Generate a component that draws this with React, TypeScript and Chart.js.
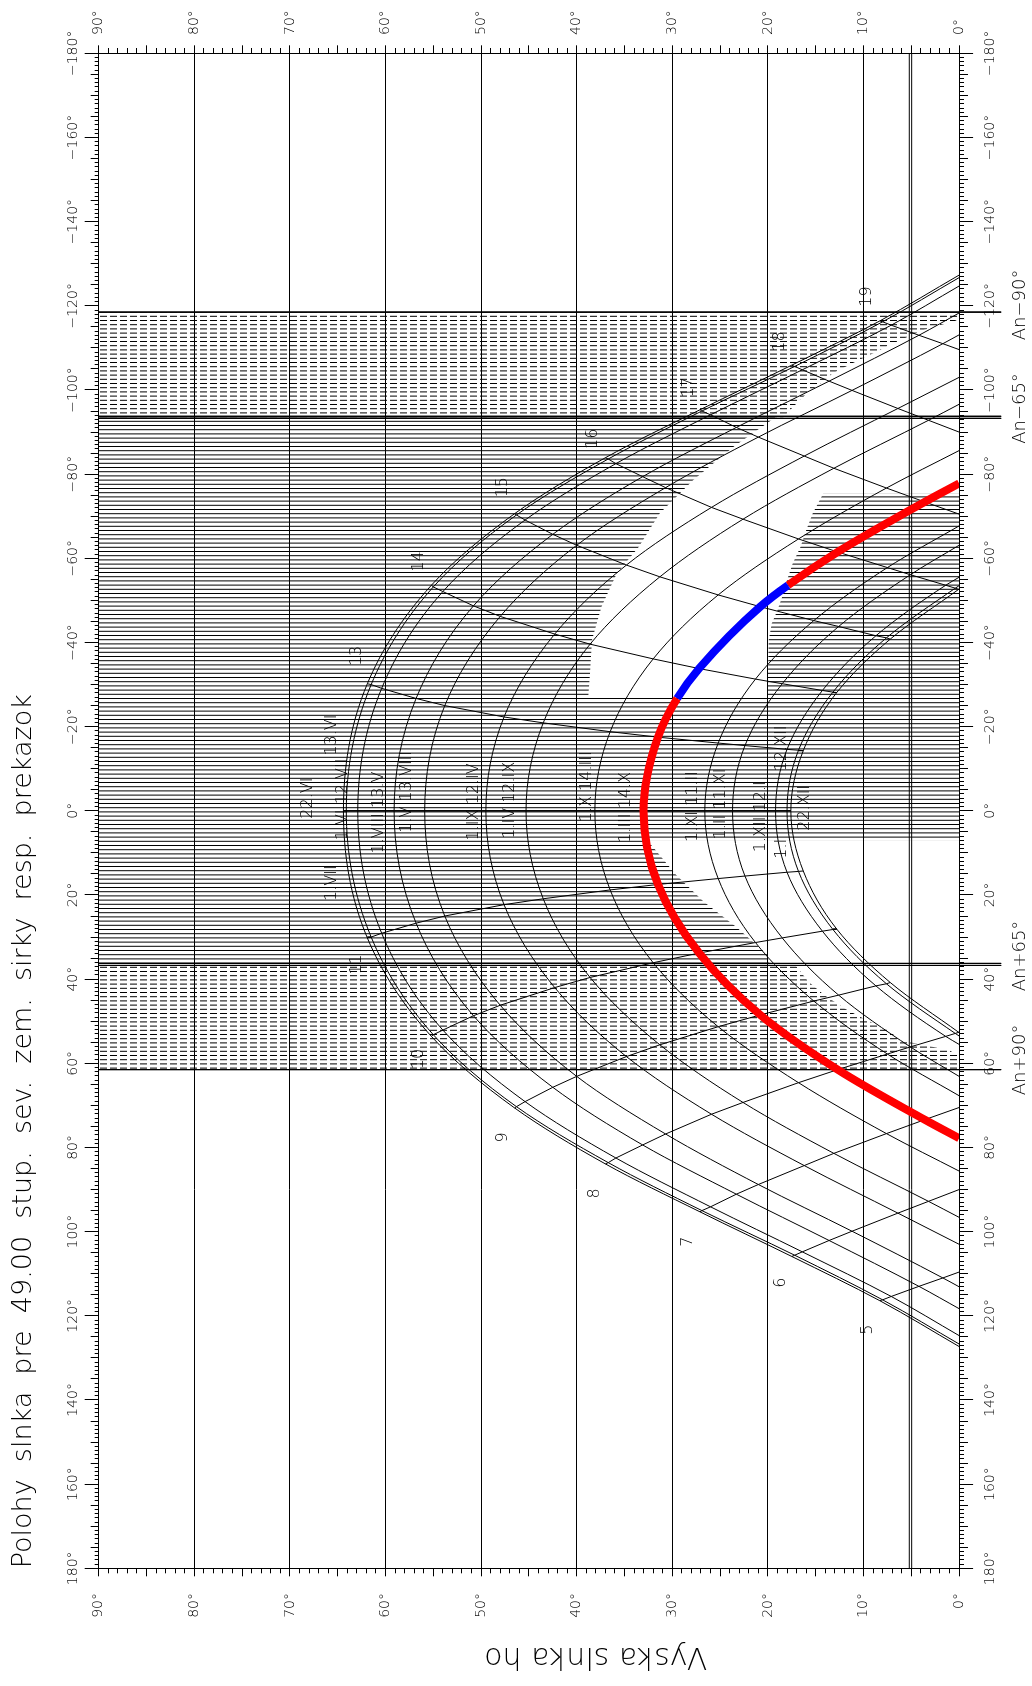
import React, { useEffect, useRef } from 'react';
import { Chart, registerables } from 'chart.js';

Chart.register(...registerables);

const FONT = '"DejaVu Sans", "Liberation Sans", sans-serif';
const WEIGHT = '200';

const chartTitle = 'Polohy  slnka  pre  49.00  stup.  sev.  zem.  sirky  resp.  prekazok';
const altitudeTitle = 'Vyska slnka ho';

// ---- sun path table: solar hours 5..19, azimuth (deg, + = east) and altitude (deg) ----
const hours = [5, 6, 7, 8, 9, 10, 11, 12, 13, 14, 15, 16, 17, 18, 19];

const az22VI = [116.4, 105.9, 95.3, 83.9, 70.6, 53.6, 30.2, 0, -30.2, -53.6, -70.6, -83.9, -95.3, -105.9, -116.4];
const alt22VI = [8.3, 17.5, 27.1, 37.0, 46.5, 55.2, 61.9, 64.4, 61.9, 55.2, 46.5, 37.0, 27.1, 17.5, 8.3];
const az1VII = [116.2, 105.6, 95.0, 83.6, 70.3, 53.2, 30.0, 0, -30.0, -53.2, -70.3, -83.6, -95.0, -105.6, -116.2];
const alt1VII = [8.0, 17.2, 26.9, 36.7, 46.3, 55.0, 61.5, 64.1, 61.5, 55.0, 46.3, 36.7, 26.9, 17.2, 8.0];
const az1VI = [115.4, 104.8, 94.1, 82.5, 69.1, 52.1, 29.1, 0, -29.1, -52.1, -69.1, -82.5, -94.1, -104.8, -115.4];
const alt1VI = [7.1, 16.4, 26.0, 35.9, 45.4, 54.0, 60.4, 62.9, 60.4, 54.0, 45.4, 35.9, 26.0, 16.4, 7.1];
const az1VIII = [113.0, 102.1, 91.1, 79.4, 65.7, 48.7, 26.7, 0, -26.7, -48.7, -65.7, -79.4, -91.1, -102.1, -113.0];
const alt1VIII = [4.2, 13.6, 23.3, 33.1, 42.5, 50.8, 56.8, 59.1, 56.8, 50.8, 42.5, 33.1, 23.3, 13.6, 4.2];
const az1V = [111.0, 99.9, 88.8, 76.8, 63.1, 46.2, 25.0, 0, -25.0, -46.2, -63.1, -76.8, -88.8, -99.9, -111.0];
const alt1V = [1.7, 11.2, 21.0, 30.7, 40.0, 48.0, 53.8, 55.9, 53.8, 48.0, 40.0, 30.7, 21.0, 11.2, 1.7];
const az1IX = [null, 95.6, 84.3, 72.1, 58.4, 42.0, 22.3, 0, -22.3, -42.0, -58.4, -72.1, -84.3, -95.6, null];
const alt1IX = [null, 6.4, 16.2, 25.9, 34.8, 42.3, 47.6, 49.5, 47.6, 42.3, 34.8, 25.9, 16.2, 6.4, null];
const az1IV = [null, 92.8, 81.4, 69.3, 55.6, 39.6, 20.9, 0, -20.9, -39.6, -55.6, -69.3, -81.4, -92.8, null];
const alt1IV = [null, 3.2, 13.1, 22.6, 31.3, 38.6, 43.5, 45.3, 43.5, 38.6, 31.3, 22.6, 13.1, 3.2, null];
const az1X = [null, null, 76.7, 64.6, 51.3, 36.1, 18.8, 0, -18.8, -36.1, -51.3, -64.6, -76.7, null, null];
const alt1X = [null, null, 7.6, 16.8, 25.2, 32.0, 36.5, 38.1, 36.5, 32.0, 25.2, 16.8, 7.6, null, null];
const az1III = [null, null, 73.4, 61.5, 48.5, 33.8, 17.5, 0, -17.5, -33.8, -48.5, -61.5, -73.4, null, null];
const alt1III = [null, null, 3.6, 12.7, 20.8, 27.2, 31.5, 33.0, 31.5, 27.2, 20.8, 12.7, 3.6, null, null];
const az1XI = [null, null, null, 57.8, 45.2, 31.3, 16.1, 0, -16.1, -31.3, -45.2, -57.8, null, null, null];
const alt1XI = [null, null, null, 7.5, 15.2, 21.3, 25.2, 26.6, 25.2, 21.3, 15.2, 7.5, null, null, null];
const az1II = [null, null, null, 56.1, 43.8, 30.2, 15.5, 0, -15.5, -30.2, -43.8, -56.1, null, null, null];
const alt1II = [null, null, null, 5.1, 12.6, 18.5, 22.4, 23.7, 22.4, 18.5, 12.6, 5.1, null, null, null];
const az1XII = [null, null, null, 53.6, 41.6, 28.6, 14.6, 0, -14.6, -28.6, -41.6, -53.6, null, null, null];
const alt1XII = [null, null, null, 1.4, 8.7, 14.3, 18.0, 19.2, 18.0, 14.3, 8.7, 1.4, null, null, null];
const az1I = [null, null, null, 52.9, 41.1, 28.2, 14.4, 0, -14.4, -28.2, -41.1, -52.9, null, null, null];
const alt1I = [null, null, null, 0.4, 7.6, 13.2, 16.8, 18.0, 16.8, 13.2, 7.6, 0.4, null, null, null];
const az22XII = [null, null, null, 52.6, 40.8, 28.1, 14.3, 0, -14.3, -28.1, -40.8, -52.6, null, null, null];
const alt22XII = [null, null, null, 0.0, 7.2, 12.8, 16.3, 17.6, 16.3, 12.8, 7.2, 0.0, null, null, null];

// sunrise azimuth of each day curve (sunset = minus this)
const riseAz = [127.3, 126.7, 124.7, 118.3, 113.1, 103.0, 96.6, 85.6, 77.8, 67.7, 63.1, 55.5, 53.5, 52.7];

const curveAz = [az22VI, az1VII, az1VI, az1VIII, az1V, az1IX, az1IV, az1X, az1III, az1XI, az1II, az1XII, az1I, az22XII];
const curveAlt = [alt22VI, alt1VII, alt1VI, alt1VIII, alt1V, alt1IX, alt1IV, alt1X, alt1III, alt1XI, alt1II, alt1XII, alt1I, alt22XII];

// hour lines reaching the horizon
const horizonHours = [5, 6, 7, 17, 18, 19];
const horizonAz = [109.6, 90.0, 70.5, -70.5, -90.0, -109.6];

// highlighted day (1.III / 14.X) and its sunlit part (blue)
const sunDayIndex = 8;
const sunLitStart = [-53.6, 17.9];
const sunLitEnd = [-26.7, 29.5];

// ---- labels ----
const dateLabelText = ['22.VI', '13.VI', '1.VII', '1.VI 12.VII', '1.VIII 13.V', '1.V 13.VIII', '1.IX 12.IV', '1.IV 12.IX',
  '1.X 14.III', '1.III 14.X', '1.XI 11.II', '1.II 11.XI', '1.XII 12.I', '12.XII', '1.I', '22.XII'];
const dateLabelAz = [-3.0, -18.0, 17.2, -2.7, 0.4, -4.5, -2.1, -2.5, -5.7, -0.8, -1.0, -1.6, 1.4, -14.8, 9.0, -0.7];
const dateLabelAlt = [68.1, 65.6, 65.6, 64.5, 60.7, 57.8, 50.8, 47.0, 38.9, 34.9, 27.9, 24.9, 20.7, 18.5, 18.5, 16.1];

const hourLabelText = ['5', '6', '7', '8', '9', '10', '11', '13', '14', '15', '16', '17', '18', '19'];
const hourLabelAz = [123.3, 112.1, 102.4, 90.9, 77.6, 59.0, 36.5, -36.8, -59.3, -76.9, -88.4, -100.6, -111.5, -122.2];
const hourLabelAlt = [9.5, 18.6, 28.4, 38.1, 47.7, 56.5, 63.0, 63.0, 56.5, 47.7, 38.3, 28.3, 18.7, 9.6];

// ---- window / wall lines ----
const anLineAz = [-118.5, 61.5];
const anDoubleAz = [-93.74, -93.26, 36.26, 36.74];
const anLineEndAlt = -4.4;
const anLabelText = ['An\u221290\u00b0', 'An\u221265\u00b0', 'An+65\u00b0', 'An+90\u00b0'];
const anLabelAz = [-120.2, -95.6, 34.5, 59.2];
const lowSunAlt = [4.96, 5.21];

// ---- obstruction outlines (azimuth, altitude) ----
const dashTopEdge = [[-118.5, 0], [-116.5, 0.3], [-114.2, 3.8], [-111.1, 6.9], [-108.7, 9.0], [-106.3, 11.2],
  [-104.0, 13.2], [-101.6, 14.5], [-99.2, 15.9], [-96.8, 17.0], [-93.5, 18.4]];
const overhangEdge = [[-93.5, 19.2], [-86.5, 23.6], [-78.6, 27.8], [-70.7, 31.3], [-62.7, 33.5], [-56.4, 35.8],
  [-48.5, 37.4], [-40.6, 38.4], [-32.7, 38.6], [-27.1, 38.8]];
const buildingEdge = [[-75.4, 14.2], [-70.7, 15.3], [-66.7, 16.0], [-62.7, 16.6], [-58.8, 17.4], [-54.8, 18.0],
  [-50.9, 18.5], [-47.7, 19.0], [-44.5, 19.6], [-40.6, 19.9], [-32.7, 20.0], [-27.1, 20.0]];
const columnEdge = [[-27.1, 0], [-27.1, 90], [7.0, 90], [7.0, 0]];
const rightEdge = [[7.0, 32.8], [8.4, 32.1], [15.2, 29.6], [21.6, 26.7], [27.6, 23.3], [34.1, 20.1], [36.5, 19.8]];
const dashBottomEdge = [[36.5, 17.2], [40.5, 15.8], [43.8, 14.1], [47.2, 11.8], [49.7, 9.7], [52.1, 7.4],
  [54.5, 6.2], [56.9, 1.0], [58.4, 0], [61.5, 0]];

const degLabel = (v: number) => (v < 0 ? '\u2212' + Math.abs(v) : String(v)) + '\u00b0';

function makeHatch(dashed: boolean): any {
  const c = document.createElement('canvas');
  c.width = 21;
  c.height = dashed ? 10 : 1;
  const g = c.getContext('2d');
  if (!g) return '#999';
  g.fillStyle = '#000';
  for (let k = 0; k < 5; k++) g.fillRect(k * 4.2, 0, 1, dashed ? 7 : 1);
  return g.createPattern(c, 'repeat') || '#999';
}

const labelPlugin = {
  id: 'sunLabels',
  afterDatasetsDraw(chart: any) {
    const { ctx } = chart;
    const xs = chart.scales.x;
    const ys = chart.scales.y;
    ctx.save();
    ctx.fillStyle = '#000';
    ctx.textAlign = 'center';
    ctx.textBaseline = 'middle';
    ctx.font = `${WEIGHT} 16px ${FONT}`;
    dateLabelText.forEach((t, i) => ctx.fillText(t, xs.getPixelForValue(dateLabelAz[i]), ys.getPixelForValue(dateLabelAlt[i])));
    hourLabelText.forEach((t, i) => ctx.fillText(t, xs.getPixelForValue(hourLabelAz[i]), ys.getPixelForValue(hourLabelAlt[i])));
    ctx.restore();
  },
};

export default function App() {
  const ref = useRef<HTMLCanvasElement>(null);

  useEffect(() => {
    document.body.style.margin = '0';
    const canvas = ref.current;
    if (!canvas) return;
    const solid = makeHatch(false);
    const dashed = makeHatch(true);
    const pts = (arr: number[][]) => arr.map(([x, y]) => ({ x, y }));
    const base = { showLine: true, pointRadius: 0, pointHoverRadius: 0, xAxisID: 'x', yAxisID: 'y' };
    const datasets: any[] = [];

    const hatch = (poly: number[][], pattern: any) => ({
      ...base, data: pts(poly), fill: 'shape', backgroundColor: pattern,
      borderColor: 'rgba(0,0,0,0)', borderWidth: 0, tension: 0, order: 20,
    });
    datasets.push(hatch([[-118.5, 90], ...dashTopEdge, [-93.5, 90]], dashed));
    datasets.push(hatch([[-93.5, 90], ...overhangEdge, [-27.1, 90]], solid));
    datasets.push(hatch([[-75.4, 0], ...buildingEdge, [-27.1, 0]], solid));
    datasets.push(hatch(columnEdge, solid));
    datasets.push(hatch([[7.0, 90], ...rightEdge, [36.5, 90]], solid));
    datasets.push(hatch([[36.5, 90], ...dashBottomEdge, [61.5, 90]], dashed));

    // day curves
    curveAz.forEach((azs, i) => {
      const p: any[] = [{ x: -riseAz[i], y: 0 }];
      for (let h = hours.length - 1; h >= 0; h--) {
        const a = azs[h];
        const b = curveAlt[i][h];
        if (a != null && b != null && b > 0.05) p.push({ x: a, y: b });
      }
      p.push({ x: riseAz[i], y: 0 });
      datasets.push({ ...base, data: p, borderColor: '#000', borderWidth: 1, cubicInterpolationMode: 'monotone', fill: false, order: 5 });
    });

    // hour lines
    hours.forEach((hr, h) => {
      const p: any[] = [];
      curveAz.forEach((azs, i) => {
        const a = azs[h];
        const b = curveAlt[i][h];
        if (a != null && b != null) p.push({ x: a, y: b });
      });
      const k = horizonHours.indexOf(hr);
      if (k >= 0) p.push({ x: horizonAz[k], y: 0 });
      datasets.push({ ...base, data: p, borderColor: '#000', borderWidth: 1, tension: 0, fill: false, order: 5 });
    });

    // wall / window lines
    anLineAz.concat(anDoubleAz).forEach((a) => {
      datasets.push({ ...base, data: [{ x: a, y: 90 }, { x: a, y: anLineEndAlt }], borderColor: '#000', borderWidth: 1, clip: false, fill: false, order: 4 });
    });
    lowSunAlt.forEach((v) => {
      datasets.push({ ...base, data: [{ x: -180, y: v }, { x: 180, y: v }], borderColor: '#000', borderWidth: 1, fill: false, order: 4 });
    });

    // highlighted day
    const sp: any[] = [{ x: -riseAz[sunDayIndex], y: 0 }, { x: riseAz[sunDayIndex], y: 0 },
      { x: sunLitStart[0], y: sunLitStart[1] }, { x: sunLitEnd[0], y: sunLitEnd[1] }];
    curveAz[sunDayIndex].forEach((a, h) => {
      const b = curveAlt[sunDayIndex][h];
      if (a != null && b != null) sp.push({ x: a, y: b });
    });
    sp.sort((p, q) => p.x - q.x);
    const inLit = (c: any) => c.p0.parsed.x >= sunLitStart[0] - 1e-6 && c.p1.parsed.x <= sunLitEnd[0] + 1e-6;
    datasets.push({
      ...base, data: sp, borderColor: '#ff0000', borderWidth: 8, cubicInterpolationMode: 'monotone', fill: false, order: 0,
      segment: { borderColor: (c: any) => (inLit(c) ? '#0000ff' : '#ff0000') },
    });

    const tickFont = { family: FONT, size: 14, weight: WEIGHT };
    const azAxis = (position: string) => ({
      type: 'linear', position, min: -180, max: 180, reverse: true, weight: 0,
      ticks: {
        stepSize: 1, autoSkip: false, maxRotation: 0, minRotation: 0, color: '#000', font: tickFont,
        padding: position === 'top' ? 3 : 8.5,
        callback: (v: number) => (v % 20 === 0 ? degLabel(v) : ''),
      },
      grid: {
        drawOnChartArea: false, drawTicks: true, tickLength: 14, tickColor: '#000', tickWidth: 1,
        tickBorderDash: (c: any) => {
          if (!c.tick) return [];
          const v = c.tick.value;
          const len = v % 20 === 0 ? 14 : v % 5 === 0 ? 8 : 4;
          if (len >= 14) return [];
          return position === 'top' ? [0, 14 - len, len, 100] : [len, 100];
        },
      },
      border: { display: true, color: '#000', width: 1 },
      afterFit: (s: any) => { s.height = position === 'top' ? 58.3 : 45; },
    });
    const altAxis = (position: string) => ({
      type: 'linear', position, min: 0, max: 90, weight: 0,
      ticks: {
        stepSize: 1, autoSkip: false, color: '#000', font: tickFont,
        padding: position === 'left' ? 16.7 : 10.3,
        callback: (v: number) => (v % 10 === 0 ? degLabel(v) : ''),
      },
      grid: {
        drawOnChartArea: position === 'left',
        color: (c: any) => (c.tick && c.tick.value % 10 === 0 ? '#000' : 'rgba(0,0,0,0)'),
        lineWidth: 1, drawTicks: true, tickLength: 8, tickColor: '#000', tickWidth: 1,
        tickBorderDash: (c: any) => {
          if (!c.tick) return [];
          const len = c.tick.value % 5 === 0 ? 8 : 5;
          if (len >= 8) return [];
          return position === 'left' ? [0, 8 - len, len, 100] : [len, 100];
        },
      },
      border: { display: true, color: '#000', width: 1 },
      title: position === 'left'
        ? { display: true, text: altitudeTitle + ' '.repeat(14), color: '#000', font: { family: FONT, size: 30, weight: WEIGHT }, padding: { top: 12.3, bottom: 0 } }
        : { display: false },
      afterFit: (s: any) => { s.width = position === 'left' ? 117.7 : 53.3; },
    });

    const chart = new Chart(canvas, {
      type: 'scatter',
      data: { datasets },
      plugins: [labelPlugin],
      options: {
        responsive: false,
        animation: false,
        devicePixelRatio: 1,
        events: [],
        layout: { padding: 0 },
        plugins: {
          legend: { display: false },
          tooltip: { enabled: false },
          title: {
            display: true, text: chartTitle, align: 'start', position: 'top', fullSize: false, color: '#000',
            font: { family: FONT, size: 27, weight: WEIGHT }, padding: { top: 8, bottom: 0 },
          },
        },
        scales: {
          x: azAxis('bottom'),
          xTop: azAxis('top'),
          xAn: {
            type: 'linear', position: 'bottom', min: -180, max: 180, reverse: true, weight: 1,
            afterBuildTicks: (s: any) => { s.ticks = anLabelAz.map((v) => ({ value: v })); },
            ticks: {
              autoSkip: false, maxRotation: 0, minRotation: 0, color: '#000', font: { family: FONT, size: 18, weight: WEIGHT }, padding: 5,
              callback: (_v: number, i: number) => anLabelText[i] ?? '',
            },
            grid: { display: false, drawTicks: false },
            border: { display: false },
            afterFit: (s: any) => { s.height = 27.9; },
          },
          y: altAxis('left'),
          yRight: altAxis('right'),
        },
      } as any,
    } as any);
    return () => chart.destroy();
  }, []);

  return (
    <div style={{ position: 'fixed', left: 0, top: 0, width: 1032, height: 1686, overflow: 'hidden', background: '#fff' }}>
      <canvas
        ref={ref}
        width={1686}
        height={1032}
        style={{
          position: 'absolute', left: 0, top: 0, width: 1686, height: 1032,
          transformOrigin: '0 0', transform: 'translate(0px, 1686px) rotate(-90deg)',
        }}
      />
    </div>
  );
}
